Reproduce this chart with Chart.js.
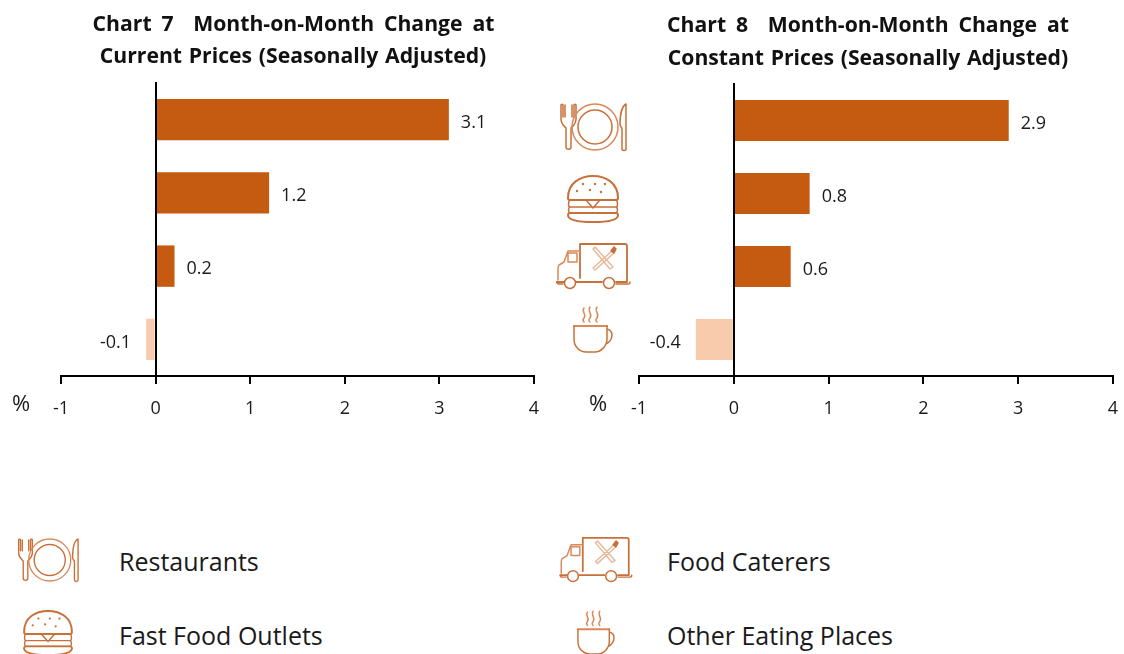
<!DOCTYPE html>
<html><head><meta charset="utf-8">
<script src="https://cdn.jsdelivr.net/npm/chart.js@4/dist/chart.umd.min.js"></script>
<style>
html,body{margin:0;padding:0;background:#fff;width:1124px;height:654px;overflow:hidden;font-family:"Open Sans",sans-serif;color:#1a1a1a}
canvas{position:absolute;top:0}
.t{position:absolute;white-space:nowrap;transform:translate(-50%,-50%);line-height:1}
.title{font-weight:700;font-size:21.2px;color:#111}
.l1{word-spacing:4.3px}
.l2{word-spacing:1.2px}
.lg{font-size:25px}
.pc{font-size:22px}
svg.ic{position:absolute;overflow:visible;fill:none;stroke:#C8703A;stroke-width:1.5;stroke-linecap:round;stroke-linejoin:round}
</style></head><body>
<svg width="0" height="0" style="position:absolute"><defs>
<symbol id="plate" viewBox="0 0 70 48" overflow="visible">
 <path d="M4 2v14c0 5 3 7 5 9v19c0 3 5 3 5 0V25c2-2 5-4 5-9V2c0-1-2-1-2 0v12M8 2v12M15 2v12M4 2c0-1 2-1 2 0v12" />
 <circle cx="38" cy="24" r="23" stroke="#D9885A"/><circle cx="38" cy="24" r="17"/>
 <path d="M69 1v45c0 2-4 2-4 0V26c0-2-2-2-2-5C63 12 65 3 69 1z"/>
</symbol>
<symbol id="burger" viewBox="0 0 54 47" overflow="visible">
 <path stroke-width="2" d="M2 23C2 8 14 1 27 1s25 7 25 22c0 1-1 2-2 2H4c-1 0-2-1-2-2z"/>
 <path d="M4 25c-2 1-2 7 0 7h46c2 0 2-6 0-7M4 32c-2 1-2 5 0 6M50 32c2 1 2 5 0 6M3 38h48M20 25l7 8 7-8"/>
 <path stroke-width="2" d="M2 40c0-2 1-2 3-2h44c2 0 3 0 3 2 0 5-10 7-25 7S2 45 2 40z"/>
 <g fill="#C8703A" stroke="none"><circle cx="17" cy="9" r="1.2"/><circle cx="29" cy="9" r="1.2"/><circle cx="39" cy="9" r="1.2"/><circle cx="11" cy="16" r="1.2"/><circle cx="24" cy="15" r="1.2"/><circle cx="35" cy="17" r="1.2"/></g>
</symbol>
<symbol id="truck" viewBox="0 0 74 46" overflow="visible">
 <path stroke-width="1.8" d="M24 35V1h45c1 0 2 1 2 2v36M71 39H60M46 39H20M8 39H1"/>
 <path d="M24 8H12l-4 11-5 3c-1 1-1 2-1 4v11M12 10h9v9H12z" stroke="#D9885A"/>
 <circle cx="14" cy="40" r="5.5"/><circle cx="53" cy="40" r="5.5"/>
 <path d="M1 39c0 2 1 2 2 2h4M60 41h12c1 0 2 0 2-2"/>
 <path stroke="#E8B89A" d="M37 6l17 20 3-2-18-20zM56 8L37 25l2 2 19-17"/>
 <path d="M55 8l3-4 2 2-2 4z" fill="#C8703A"/>
</symbol>
<symbol id="cup" viewBox="0 0 40 46" overflow="visible">
 <path stroke="#D9885A" d="M11 1c-3 4 3 6 0 10-2 2-1 3 0 4M17 0c-3 4 3 7 0 11-2 2-1 3 0 4M24 0c-3 4 3 7 0 11-2 2-1 3 0 4"/>
 <path stroke="#D9885A" stroke-width="2" d="M1 19h33"/>
 <path d="M1 19v13c0 8 6 13 12 13h9c6 0 12-6 12-13V19M34 22c4 1 5 3 5 6 0 4-3 8-6 9"/>
</symbol>
</defs></svg>

<canvas id="c1" width="578" height="440" style="left:0"></canvas>
<canvas id="c2" width="578" height="440" style="left:578px"></canvas>

<div class="t title l1" style="left:293.5px;top:23px">Chart 7&nbsp; Month-on-Month Change at</div>
<div class="t title l2" style="left:293px;top:55px">Current Prices (Seasonally Adjusted)</div>
<div class="t title l1" style="left:868px;top:24px">Chart 8&nbsp; Month-on-Month Change at</div>
<div class="t title l2" style="left:868px;top:57px">Constant Prices (Seasonally Adjusted)</div>
<div class="t pc" style="left:21px;top:402px">%</div>
<div class="t pc" style="left:598px;top:402px">%</div>

<svg class="ic" style="left:557px;top:103px" width="70" height="48"><use href="#plate"/></svg>
<svg class="ic" style="left:566px;top:175px" width="54" height="47"><use href="#burger"/></svg>
<svg class="ic" style="left:556px;top:243px" width="74" height="46"><use href="#truck"/></svg>
<svg class="ic" style="left:573px;top:307px" width="40" height="46"><use href="#cup"/></svg>

<svg class="ic" style="left:15px;top:537px" width="64" height="46"><use href="#plate"/></svg>
<svg class="ic" style="left:22px;top:610px" width="52" height="45"><use href="#burger"/></svg>
<svg class="ic" style="left:559px;top:537px" width="73" height="45"><use href="#truck"/></svg>
<svg class="ic" style="left:577px;top:611px" width="38" height="44"><use href="#cup"/></svg>

<div class="t lg" style="left:119px;top:561px;transform:translateY(-50%)">Restaurants</div>
<div class="t lg" style="left:119px;top:635px;transform:translateY(-50%)">Fast Food Outlets</div>
<div class="t lg" style="left:667px;top:561px;transform:translateY(-50%)">Food Caterers</div>
<div class="t lg" style="left:667px;top:635px;transform:translateY(-50%)">Other Eating Places</div>

<script>
const categories = ["Restaurants", "Fast Food Outlets", "Food Caterers", "Other Eating Places"];
const currentPriceChange = [3.1, 1.2, 0.2, -0.1];
const constantPriceChange = [2.9, 0.8, 0.6, -0.4];
const axisMin = -1;
const axisMax = 4;
const positiveColor = "#C55A11";
const negativeColor = "#F8CBAD";

const valueLabels = {
  id: "valueLabels",
  afterDatasetsDraw(chart) {
    const { ctx } = chart;
    const values = chart.data.datasets[0].data;
    ctx.save();
    ctx.font = '18px "Open Sans", sans-serif';
    ctx.fillStyle = "#1a1a1a";
    ctx.textBaseline = "middle";
    chart.getDatasetMeta(0).data.forEach((bar, i) => {
      const neg = values[i] < 0;
      ctx.textAlign = neg ? "right" : "left";
      ctx.fillText(values[i].toFixed(1), bar.x + (neg ? -15 : 12), bar.y + 3);
    });
    ctx.restore();
  }
};

function makeChart(id, values, rightPad, topPad) {
  return new Chart(document.getElementById(id), {
    type: "bar",
    plugins: [valueLabels],
    data: {
      labels: categories,
      datasets: [{
        data: values,
        backgroundColor: values.map(v => v < 0 ? negativeColor : positiveColor),
        borderWidth: 0,
        categoryPercentage: 1,
        barPercentage: 0.565
      }]
    },
    options: {
      indexAxis: "y",
      responsive: false,
      animation: false,
      layout: { padding: { left: 61, right: rightPad, top: topPad, bottom: 0 } },
      plugins: { legend: { display: false }, tooltip: { enabled: false } },
      scales: {
        x: {
          type: "linear", min: axisMin, max: axisMax,
          afterFit(s) { s.height = 64; },
          grid: { drawOnChartArea: false, drawTicks: true, tickLength: 8, color: "#000", lineWidth: 2 },
          border: { display: true, color: "#000", width: 2 },
          ticks: { stepSize: 1, maxRotation: 0, padding: 14, color: "#1a1a1a",
                   font: { family: '"Open Sans", sans-serif', size: 18 } }
        },
        y: {
          position: { x: 0 },
          grid: { display: false },
          border: { display: true, color: "#000", width: 2, z: 2 },
          ticks: { display: false }
        }
      }
    }
  });
}
makeChart("c1", currentPriceChange, 44, 83);
makeChart("c2", constantPriceChange, 43, 84);
</script>
</body></html>
